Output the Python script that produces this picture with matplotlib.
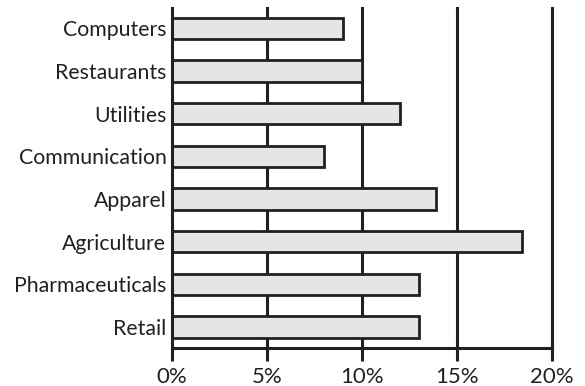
import matplotlib
matplotlib.use("Agg")
import matplotlib.pyplot as plt

categories = ["Computers", "Restaurants", "Utilities", "Communication",
              "Apparel", "Agriculture", "Pharmaceuticals", "Retail"]
values = [9.0, 10.0, 12.0, 8.0, 13.9, 18.4, 13.0, 13.0]
xticks = [0, 5, 10, 15, 20]
xticklabels = ["0%", "5%", "10%", "15%", "20%"]

plt.rcParams['font.family'] = ['Lato', 'DejaVu Sans']

fig = plt.figure(figsize=(5.85, 3.86), dpi=100)
ax = fig.add_axes([0.294, 0.0984, 0.6496, 0.8806])

for x in xticks[1:]:
    ax.axvline(x, color="#231f20", lw=2.2, zorder=1, clip_on=False)

ax.barh(range(len(categories)), values, height=0.5, color="#e4e5e6",
        edgecolor="#231f20", linewidth=2.0, zorder=2)

ax.set_xlim(0, 20)
ax.set_ylim(7.49, -0.47)
ax.set_yticks(range(len(categories)))
ax.set_yticklabels(categories, fontsize=15.3, color="#231f20")
ax.set_xticks(xticks)
ax.set_xticklabels(xticklabels, fontsize=16, color="#231f20")
ax.tick_params(axis="y", length=0, pad=4)
ax.tick_params(axis="x", length=9, width=2.2, color="#231f20", pad=5)

for s in ["top", "right"]:
    ax.spines[s].set_visible(False)
for s in ["left", "bottom"]:
    ax.spines[s].set_linewidth(2.2)
    ax.spines[s].set_color("#231f20")

fig.savefig("out.png", dpi=100)
